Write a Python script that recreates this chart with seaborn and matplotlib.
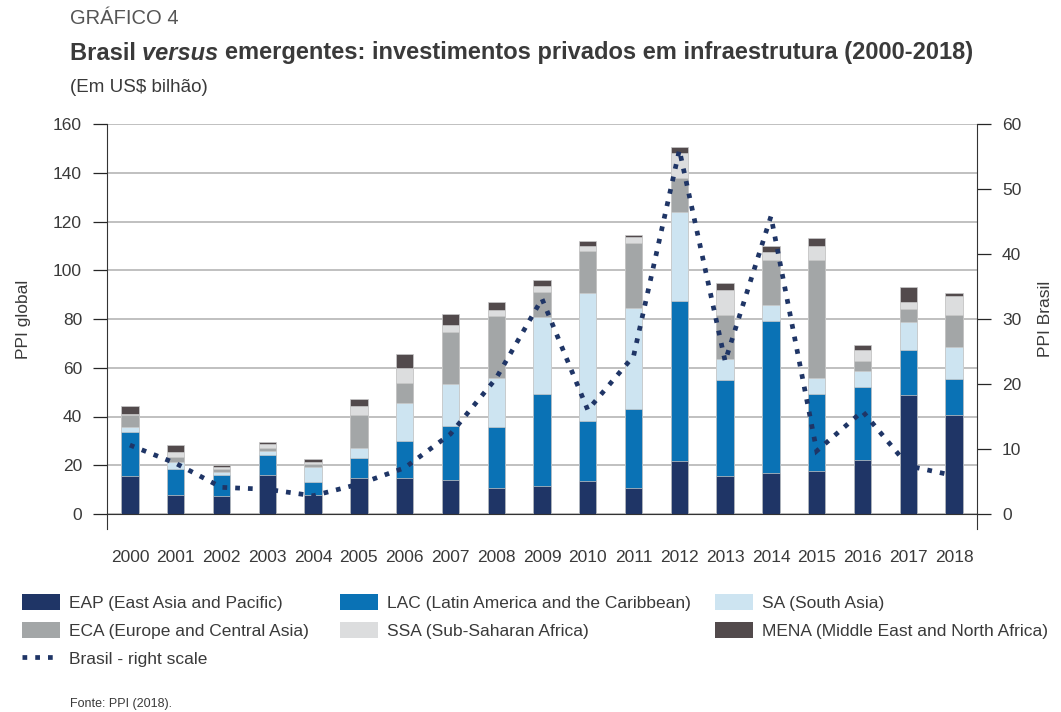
import numpy as np
import pandas as pd
import matplotlib
matplotlib.use("Agg")
import matplotlib.pyplot as plt
import seaborn as sns
from matplotlib.patches import Patch
from matplotlib.lines import Line2D

# Data (US$ billion)
years = [str(y) for y in range(2000, 2019)]
eap = [15.6, 7.9, 7.4, 16.1, 7.6, 14.9, 14.9, 13.8, 10.5, 11.6, 13.7, 10.5, 21.9, 15.6, 16.7, 17.5, 22.3, 48.7, 40.5]
lac = [18.0, 10.6, 8.6, 8.1, 5.4, 8.2, 15.0, 22.4, 25.1, 37.6, 24.5, 32.7, 65.5, 39.4, 62.5, 31.7, 29.9, 18.6, 15.0]
sa = [2.1, 2.7, 1.4, 1.6, 6.4, 3.9, 15.6, 17.0, 20.1, 31.5, 52.3, 41.2, 36.4, 8.7, 6.4, 6.5, 6.5, 11.5, 13.1]
eca = [4.9, 2.3, 0.9, 1.2, 1.1, 13.6, 8.1, 21.6, 25.5, 10.5, 17.5, 26.9, 14.2, 17.9, 18.6, 48.5, 4.2, 5.3, 13.0]
ssa = [0.3, 2.1, 0.9, 1.9, 1.0, 3.7, 6.4, 2.7, 2.5, 2.5, 2.0, 2.5, 10.2, 10.3, 3.3, 5.7, 4.4, 2.8, 7.8]
mena = [3.4, 2.7, 0.9, 0.6, 0.9, 2.9, 5.6, 4.4, 3.2, 2.5, 2.0, 0.7, 2.2, 3.0, 2.5, 3.2, 2.0, 6.1, 1.1]
brasil = [10.6, 7.8, 4.1, 3.8, 2.8, 4.6, 7.1, 12.3, 20.9, 33.1, 16.0, 24.3, 56.0, 23.5, 45.8, 9.7, 15.8, 7.4, 5.9]

series = ["EAP (East Asia and Pacific)", "LAC (Latin America and the Caribbean)", "SA (South Asia)",
          "ECA (Europe and Central Asia)", "SSA (Sub-Saharan Africa)", "MENA (Middle East and North Africa)"]
colors = ["#1f3566", "#0a72b5", "#cde4f1", "#a3a6a7", "#dcddde", "#524a4c"]
line_color = "#1f3566"
line_label = "Brasil - right scale"

df = pd.DataFrame({"year": years, "EAP": eap, "LAC": lac, "SA": sa, "ECA": eca, "SSA": ssa, "MENA": mena})
cols = ["EAP", "LAC", "SA", "ECA", "SSA", "MENA"]
cum = df[cols].cumsum(axis=1)

sns.set_style("white")
plt.rcParams["font.family"] = ["Liberation Sans", "DejaVu Sans"]
text_color = "#3a3a3a"

fig = plt.figure(figsize=(10.61, 7.12), dpi=100)
ax = fig.add_axes([107 / 1061, 198 / 712, 870 / 1061, 390 / 712])

# stacked bars: draw cumulative totals from the top layer down
for i in range(len(cols) - 1, -1, -1):
    sns.barplot(x=df["year"], y=cum[cols[i]], color=colors[i], width=0.38,
                saturation=1, ax=ax, edgecolor="#c9c9c9", linewidth=0.5, zorder=2)

ax.set_ylim(0, 160)
ax.set_xlim(-0.5, 18.5)
ax.set_yticks(range(0, 161, 20))
ax.yaxis.grid(True, color="#b5b5b5", linewidth=1.2, zorder=0)
ax.set_axisbelow(True)
ax.set_xlabel("")
ax.set_ylabel("PPI global", fontsize=12.5, color=text_color, labelpad=16)

# x: boundary ticks (no label), labels at centres
ax.set_xticks(np.arange(-0.5, 19, 1))
ax.set_xticklabels([])
ax.set_xticks(np.arange(19), minor=True)
ax.set_xticklabels(years, minor=True, fontsize=12.5, color=text_color)
ax.tick_params(axis="x", which="major", direction="out", length=11, width=0.9, color="#555555")
ax.tick_params(axis="x", which="minor", length=0, pad=26)
ax.tick_params(axis="y", direction="out", length=10, width=0.9, labelsize=12.5, labelcolor=text_color, pad=8)

ax.spines["top"].set_visible(False)
ax.spines["right"].set_visible(False)
ax.spines["left"].set_bounds(-6.2, 160)
ax.spines["left"].set_color("#333333")
ax.spines["bottom"].set_color("#333333")

# Brasil line on right scale
ax2 = ax.twinx()
sns.lineplot(x=np.arange(19), y=brasil, ax=ax2, color=line_color, linewidth=3.4,
             linestyle=(0, (1, 1.7)), dash_capstyle="butt", dash_joinstyle="miter")
ax2.set_ylim(0, 60)
ax2.set_yticks(range(0, 61, 10))
ax2.set_ylabel("PPI Brasil", fontsize=12.5, color=text_color, labelpad=12)
ax2.tick_params(axis="y", direction="out", length=10, width=0.9, labelsize=12.5, labelcolor=text_color, pad=8)
for s in ["top", "left", "bottom"]:
    ax2.spines[s].set_visible(False)
ax2.spines["right"].set_bounds(-2.3, 60)
ax2.spines["right"].set_color("#333333")
ax2.grid(False)

# titles
ty = 1 - 53 / 712
r = fig.canvas.get_renderer()
t1 = fig.text(70 / 1061, ty, "Brasil ", fontsize=17, weight="bold", color=text_color, va="center")
x = t1.get_window_extent(r).x1
t2 = fig.text(x / 1061, ty, "versus ", fontsize=17, weight="bold", style="italic",
              color=text_color, va="center")
x = t2.get_window_extent(r).x1
fig.text(x / 1061, ty, "emergentes: investimentos privados em infraestrutura (2000-2018)",
         fontsize=17, weight="bold", color=text_color, va="center")
fig.text(70 / 1061, 1 - 18 / 712, "GRÁFICO 4", fontsize=14.5, color="#555555", va="center")
fig.text(70 / 1061, 1 - 88 / 712, "(Em US$ bilhão)", fontsize=13.5, color=text_color, va="center")
fig.text(70 / 1061, 1 - 704 / 712, "Fonte: PPI (2018).", fontsize=9, color=text_color, va="center")

# legend in three columns
handles = [Patch(facecolor=c, edgecolor="none") for c in colors]
brasil_handle = Line2D([0], [0], color=line_color, linewidth=3.4, linestyle=(0, (1, 1.7)), dash_capstyle="butt")
col_specs = [(22, [handles[0], handles[3], brasil_handle], [series[0], series[3], line_label]),
             (340, [handles[1], handles[4]], [series[1], series[4]]),
             (715, [handles[2], handles[5]], [series[2], series[5]])]
for xpix, hs, ls in col_specs:
    fig.legend(hs, ls, loc="upper left", bbox_to_anchor=(xpix / 1061, 1 - 594 / 712), frameon=False,
               fontsize=12.5, handlelength=2.2, handleheight=1.0, handletextpad=0.5, labelspacing=0.65,
               borderaxespad=0, borderpad=0, labelcolor=text_color)

fig.savefig("out.png", dpi=100)
